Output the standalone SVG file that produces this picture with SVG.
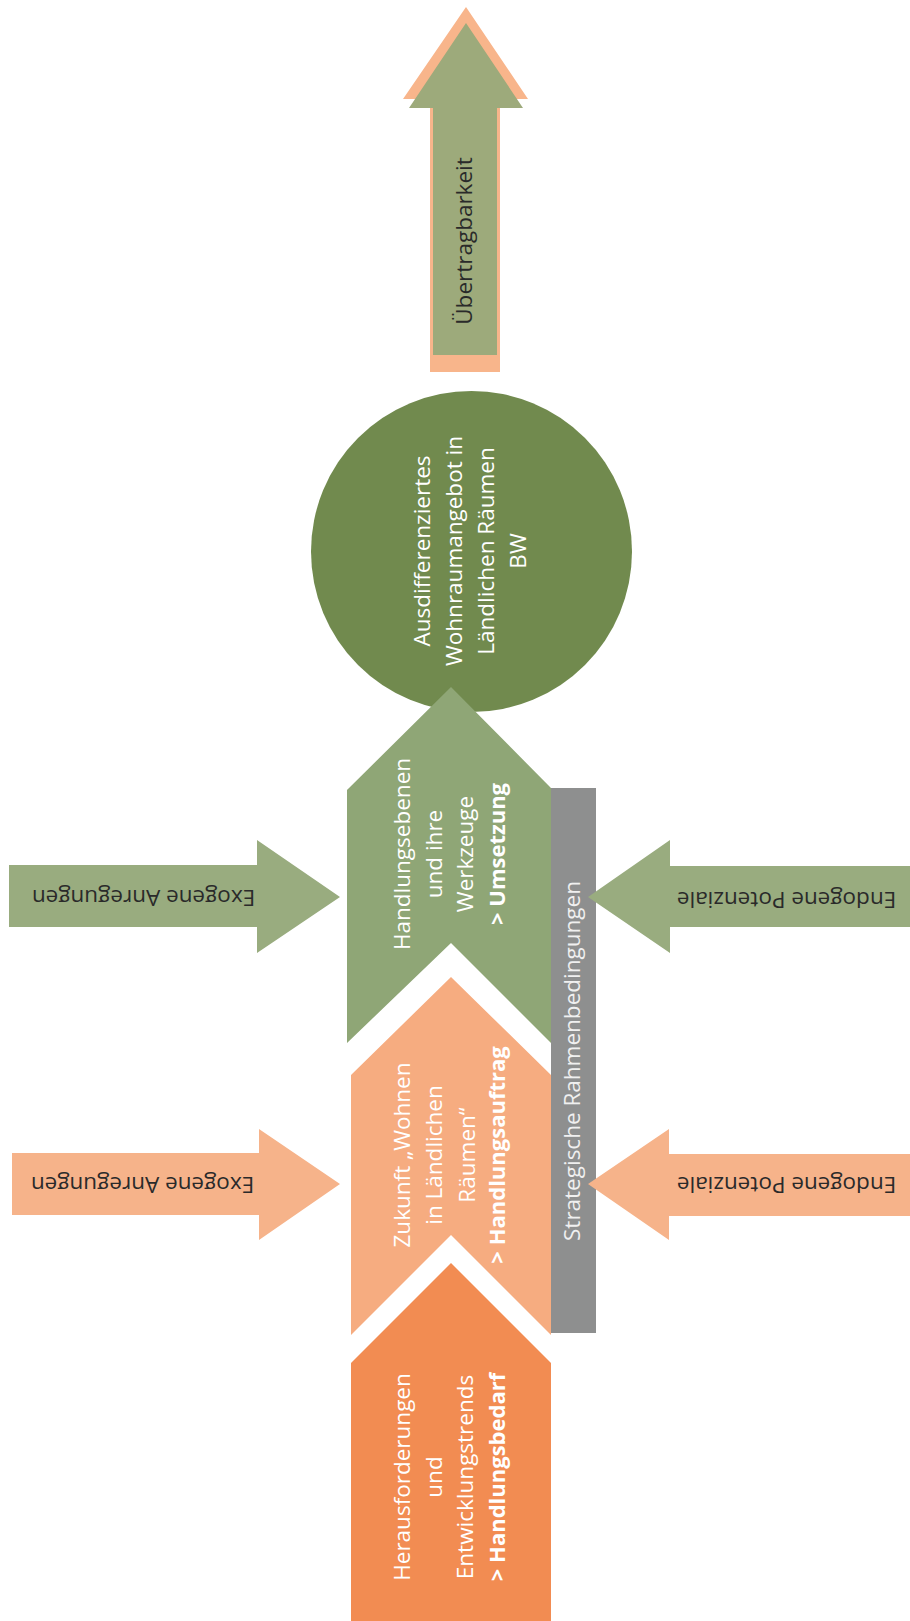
<svg xmlns="http://www.w3.org/2000/svg" width="910" height="1621" viewBox="0 0 910 1621">
  <style>
    text { font-family: "Open Sans", "Liberation Sans", sans-serif; font-size: 22.5px; }
    .w { fill: #ffffff; font-weight: 400; }
    .b { font-weight: 700; font-size: 22px; }
    .d { fill: #2a2a2a; font-weight: 400; }
    .g { fill: #f0f0f0; font-weight: 400; }
    .c-dark-orange { fill: #f28c52; }
    .c-light-orange { fill: #f6ac80; }
    .c-chev-green { fill: #8fa676; }
    .c-circle { fill: #718a4e; }
    .c-side-green { fill: #99ac7f; }
    .c-side-orange { fill: #f6b38a; }
    .c-bar { fill: #8e8f8f; }
  </style>
  <rect width="910" height="1621" fill="#ffffff"/>

  <!-- Upward arrow at the top -->
  <g id="uebertragbarkeit">
    <polygon points="466,7 528,99 500,99 500,372 430,372 430,99 403,99" fill="#f8b58b"/>
    <polygon points="466,23 523,108 497,108 497,355 433,355 433,108 409,108" fill="#9daa7b"/>
    <text class="d" transform="translate(472 241) rotate(-90)" text-anchor="middle">Übertragbarkeit</text>
  </g>

  <!-- Goal circle -->
  <g id="wohnraumangebot">
    <circle class="c-circle" cx="471.5" cy="551.5" r="160.5"/>
    <g class="w" text-anchor="middle">
      <text transform="translate(430 551) rotate(-90)">Ausdifferenziertes</text>
      <text transform="translate(462 551) rotate(-90)">Wohnraumangebot in</text>
      <text transform="translate(494 551) rotate(-90)">Ländlichen Räumen</text>
      <text transform="translate(526 551) rotate(-90)">BW</text>
    </g>
  </g>

  <!-- Chevron: Handlungsebenen -->
  <g id="umsetzung">
    <polygon class="c-chev-green" points="451,687 551,788 551,1043 451,943 347,1043 347,790"/>
    <g class="w" text-anchor="middle">
      <text transform="translate(410 854) rotate(-90)">Handlungsebenen</text>
      <text transform="translate(442 854) rotate(-90)">und ihre</text>
      <text transform="translate(473 854) rotate(-90)">Werkzeuge</text>
      <text class="b" transform="translate(505 854) rotate(-90)">&gt; Umsetzung</text>
    </g>
  </g>

  <!-- Chevron: Zukunft -->
  <g id="handlungsauftrag">
    <polygon class="c-light-orange" points="451,977 551,1075 551,1335 451,1235 351,1335 351,1075"/>
    <g class="w" text-anchor="middle">
      <text transform="translate(410 1155) rotate(-90)">Zukunft „Wohnen</text>
      <text transform="translate(442 1155) rotate(-90)">in Ländlichen</text>
      <text transform="translate(475 1155) rotate(-90)">Räumen“</text>
      <text class="b" transform="translate(505 1155) rotate(-90)">&gt; Handlungsauftrag</text>
    </g>
  </g>

  <!-- Chevron: Herausforderungen -->
  <g id="handlungsbedarf">
    <polygon class="c-dark-orange" points="451,1263 551,1363 551,1621 351,1621 351,1363"/>
    <g class="w" text-anchor="middle">
      <text transform="translate(410 1477) rotate(-90)">Herausforderungen</text>
      <text transform="translate(442 1477) rotate(-90)">und</text>
      <text transform="translate(473 1477) rotate(-90)">Entwicklungstrends</text>
      <text class="b" transform="translate(505 1477) rotate(-90)">&gt; Handlungsbedarf</text>
    </g>
  </g>

  <!-- Vertical bar -->
  <g id="rahmenbedingungen">
    <rect class="c-bar" x="551" y="788" width="45" height="545"/>
    <text class="g" transform="translate(580 1061) rotate(-90)" text-anchor="middle">Strategische Rahmenbedingungen</text>
  </g>

  <!-- Side block arrows -->
  <g id="exogen-gruen">
    <polygon class="c-side-green" points="9,865 257,865 257,840 340,897 257,953 257,927 9,927"/>
    <text class="d" transform="rotate(180 143.5 890)" x="143.5" y="890" text-anchor="middle">Exogene Anregungen</text>
  </g>
  <g id="endogen-gruen">
    <polygon class="c-side-green" points="910,866 670,866 670,840 588,897 670,953 670,927 910,927"/>
    <text class="d" transform="rotate(180 786.5 892)" x="786.5" y="892" text-anchor="middle">Endogene Potenziale</text>
  </g>
  <g id="exogen-orange">
    <polygon class="c-side-orange" points="12,1153 259,1153 259,1129 340,1184 259,1240 259,1215 12,1215"/>
    <text class="d" transform="rotate(180 142.5 1177)" x="142.5" y="1177" text-anchor="middle">Exogene Anregungen</text>
  </g>
  <g id="endogen-orange">
    <polygon class="c-side-orange" points="910,1154 669,1154 669,1129 588,1184 669,1240 669,1216 910,1216"/>
    <text class="d" transform="rotate(180 786.5 1177)" x="786.5" y="1177" text-anchor="middle">Endogene Potenziale</text>
  </g>

  <g id="connectors"/>
</svg>
